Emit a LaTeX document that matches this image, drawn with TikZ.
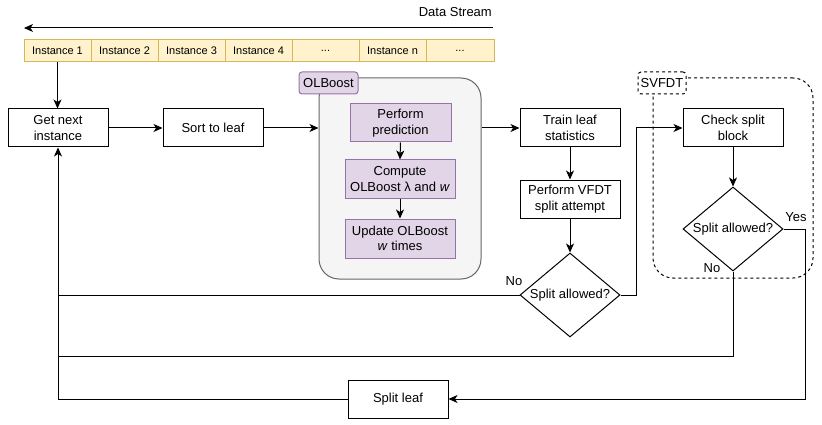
\documentclass[tikz,border=0pt]{standalone}
\usepackage{fontspec}
\setmainfont{Liberation Sans}
\usetikzlibrary{arrows.meta,shapes.geometric}

\definecolor{cellfill}{HTML}{FFF2CC}
\definecolor{celline}{HTML}{D6B656}
\definecolor{subfill}{HTML}{E1D5E7}
\definecolor{subline}{HTML}{9673A6}
\definecolor{groupfill}{HTML}{F5F5F5}
\definecolor{groupline}{HTML}{666666}

\begin{document}
\begin{tikzpicture}[x=1pt,y=-1pt,
  every node/.style={font=\fontsize{13}{15.5}\selectfont},
  line/.style={line width=1pt},
  arr/.style={line, -{Stealth[length=9pt,width=8pt,inset=2.5pt]}},
  proc/.style={draw, line width=1pt, minimum width=100pt, minimum height=38pt,
    align=center, inner sep=0pt},
  subproc/.style={proc, fill=subfill, draw=subline},
  cell/.style={draw=celline, fill=cellfill, line width=1pt, minimum width=67pt,
    minimum height=22pt, inner sep=0pt, font=\fontsize{11}{13}\selectfont},
  decision/.style={diamond, draw, line width=1pt, aspect=1.19, inner sep=0pt,
    minimum width=100pt, minimum height=84pt},
  tag/.style={draw, line width=1pt, rounded corners=3pt, inner sep=0pt,
    minimum height=22pt},
  edgelabel/.style={inner sep=0pt}
]
\useasboundingbox (0,0) rectangle (822,425);

% incoming data stream
\coordinate (dsR) at (493,28);
\coordinate (dsL) at (24,28);
\draw[arr] (dsR) -- (dsL);
\node[anchor=east, inner sep=0pt] (dslabel) at (492,12) {Data Stream};

\node[cell] (c1) at (57.5,51) {Instance 1};
\node[cell] (c2) at (124.5,51) {Instance 2};
\node[cell] (c3) at (191.5,51) {Instance 3};
\node[cell] (c4) at (258.5,51) {Instance 4};
\node[cell] (c5) at (325.5,51) {...};
\node[cell] (c6) at (392.5,51) {Instance n};
\node[cell, minimum width=68pt] (c7) at (460,51) {...};

% main pipeline
\node[proc] (get) at (58,128) {Get next\\instance};
\node[proc] (sort) at (213,128) {Sort to leaf};

% OLBoost group
\node[draw=groupline, fill=groupfill, line width=1pt, rounded corners=20pt,
  minimum width=162pt, minimum height=201pt] (olb) at (400,178.5) {};
\node[tag, fill=subfill, draw=subline, minimum width=59pt] (olblab) at (328.5,83) {OLBoost};
\node[subproc, minimum width=101pt] (pp) at (400.5,123) {Perform\\prediction};
\node[subproc, minimum width=110pt] (co) at (400,179) {Compute\\OLBoost λ and \textit{w}};
\node[subproc, minimum width=110pt, minimum height=39pt] (up) at (400,238.5) {Update OLBoost\\\textit{w} times};

\node[proc] (train) at (570,128) {Train leaf\\statistics};
\node[proc] (vfdt) at (570,199) {Perform VFDT\\split attempt};
\node[decision] (d1) at (570,295) {Split allowed?};

% SVFDT group
\node[draw, dashed, line width=1pt, rounded corners=20pt,
  minimum width=160pt, minimum height=200pt] (svf) at (733,178) {};
\node[tag, dashed, fill=white, minimum width=48pt] (svflab) at (662,83) {SVFDT};
\node[proc] (check) at (733,128) {Check split\\block};
\node[decision] (d2) at (733,229) {Split allowed?};

\node[proc] (split) at (398,399) {Split leaf};

% connectors
\draw[arr] (c1.south) -- (c1.south |- get.north);
\draw[arr] (get.east) -- (sort.west);
\draw[arr] (sort.east) -- (sort.east -| olb.west);
\draw[arr] (pp.south) -- (co.north);
\draw[arr] (co.south) -- (up.north);
\draw[arr] (train.west -| olb.east) -- (train.west);
\draw[arr] (train.south) -- (vfdt.north);
\draw[arr] (vfdt.south) -- (d1.north);
\draw[arr] (d1.east) -- ++(16,0) |- (check.west);
\draw[arr] (check.south) -- (d2.north);

\draw[arr] (split.west) -| (get.south);
\draw[line] (d1.west) -- (d1.west -| get.south);
\coordinate (back2) at (58,356);
\draw[line] (d2.south) |- (back2);
\draw[arr] (d2.east) -- ++(22,0) |- (split.east);

\node[edgelabel] (no1) at (514,281) {No};
\node[edgelabel] (no2) at (712,268) {No};
\node[edgelabel] (yes) at (796,217) {Yes};
\end{tikzpicture}
\end{document}
